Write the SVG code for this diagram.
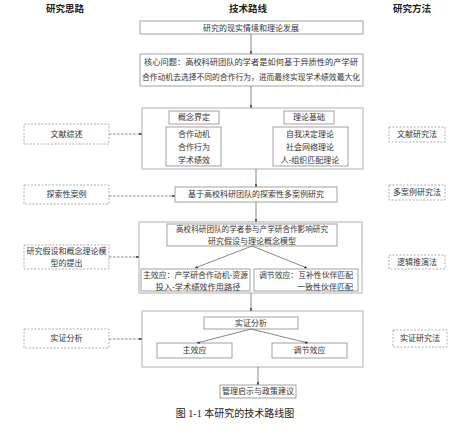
<svg xmlns="http://www.w3.org/2000/svg" width="473" height="427" viewBox="0 0 473 427">
<style>
text{font-family:"Liberation Serif","Noto Sans CJK SC",serif;font-size:8px;fill:#333;text-anchor:middle;dominant-baseline:central}
.h{font-size:9.5px;font-weight:bold;fill:#222}
.b{fill:#fff;stroke:#8a8a8a;stroke-width:0.8}
.g{fill:#fff;stroke:#b0b0b0;stroke-width:1}
.d{fill:#fff;stroke:#999;stroke-width:0.8;stroke-dasharray:2,1.5}
.c{stroke:#555;stroke-width:0.7;fill:none;marker-end:url(#a)}
.cd{stroke:#555;stroke-width:0.7;fill:none;stroke-dasharray:2.5,1.5;marker-end:url(#a)}
</style>
<defs><marker id="a" viewBox="0 0 6 6" refX="6" refY="3" markerWidth="4" markerHeight="4" orient="auto"><path d="M0,0L6,3L0,6z" fill="#333"/></marker></defs>
<rect width="473" height="427" fill="#fff"/>
<text class="h" x="65" y="9">研究思路</text>
<text class="h" x="248" y="9">技术路线</text>
<text class="h" x="412" y="9">研究方法</text>

<g id="n1"><rect class="b" x="140" y="21" width="223" height="13"/><text x="251" y="28">研究的现实情境和理论发展</text></g>
<g id="n2"><rect class="b" x="140" y="54" width="223" height="32"/><text x="251" y="62" textLength="214" lengthAdjust="spacingAndGlyphs">核心问题：高校科研团队的学者是如何基于异质性的产学研</text><text x="251" y="77" textLength="218" lengthAdjust="spacingAndGlyphs">合作动机去选择不同的合作行为，进而最终实现学术绩效最大化</text></g>
<g id="n3"><rect class="g" x="142" y="108" width="221" height="61"/>
<rect class="b" x="169" y="111" width="50" height="13"/><text x="194" y="117.5">概念界定</text>
<rect class="b" x="284" y="111" width="50" height="13"/><text x="309" y="117.5">理论基础</text>
<rect class="b" x="166" y="127" width="55" height="39"/><text x="194" y="134">合作动机</text><text x="194" y="147">合作行为</text><text x="194" y="160">学术绩效</text>
<rect class="b" x="273" y="127" width="75" height="39"/><text x="310" y="134">自我决定理论</text><text x="310" y="147">社会网络理论</text><text x="310" y="160">人-组织匹配理论</text></g>
<g id="n4"><rect class="b" x="175" y="187" width="162" height="15"/><text x="256" y="194.5">基于高校科研团队的探索性多案例研究</text></g>
<g id="n5"><rect class="g" x="139" y="222" width="223" height="71"/>
<rect class="b" x="167" y="224" width="170" height="22"/><text x="252" y="229.5" textLength="152" lengthAdjust="spacingAndGlyphs">高校科研团队的学者参与产学研合作影响研究</text><text x="252" y="241">研究假设与理论概念模型</text>
<rect class="b" x="141" y="269" width="109" height="22"/><text x="195.5" y="275" textLength="105" lengthAdjust="spacingAndGlyphs">主效应：产学研合作动机-资源</text><text x="198" y="287" textLength="85" lengthAdjust="spacingAndGlyphs">投入-学术绩效作用路径</text>
<rect class="b" x="254" y="269" width="104" height="22"/><text x="306" y="275" textLength="94" lengthAdjust="spacingAndGlyphs">调节效应：互补性伙伴匹配</text><text x="353" y="287" style="text-anchor:end">一致性伙伴匹配</text></g>
<g id="n6"><rect class="g" x="142" y="311" width="221" height="56"/>
<rect class="b" x="204" y="317" width="94" height="12"/><text x="251" y="323">实证分析</text>
<rect class="b" x="157" y="343" width="75" height="15"/><text x="194.5" y="350.5">主效应</text>
<rect class="b" x="272" y="343" width="75" height="15"/><text x="309.5" y="350.5">调节效应</text></g>
<g id="n7"><rect class="b" x="220" y="385" width="76" height="13"/><text x="258" y="391.5">管理启示与政策建议</text></g>

<g id="l1"><rect class="d" x="24" y="124" width="85" height="20"/><text x="66.5" y="134">文献综述</text></g>
<g id="l2"><rect class="d" x="24" y="185" width="85" height="19"/><text x="66.5" y="194.5">探索性案例</text></g>
<g id="l3"><rect class="d" x="24" y="245" width="85" height="24"/><text x="66.5" y="251" textLength="80" lengthAdjust="spacingAndGlyphs">研究假设和概念理论模</text><text x="66.5" y="263">型的提出</text></g>
<g id="l4"><rect class="d" x="24" y="329" width="85" height="19"/><text x="66.5" y="338.5">实证分析</text></g>

<g id="r1"><rect class="d" x="389" y="127" width="56" height="15"/><text x="417" y="134.5">文献研究法</text></g>
<g id="r2"><rect class="d" x="389" y="185" width="56" height="15"/><text x="417" y="192.5">多案例研究法</text></g>
<g id="r3"><rect class="d" x="389" y="255" width="56" height="14"/><text x="417" y="262">逻辑推演法</text></g>
<g id="r4"><rect class="d" x="393" y="330" width="54" height="17"/><text x="420" y="338.5">实证研究法</text></g>

<g id="connectors">
<path class="c" d="M251,34V54"/>
<path class="c" d="M251,86V108"/>
<path class="c" d="M256,169V187"/>
<path class="c" d="M256,202V222"/>
<path class="c" d="M252,246L195,268"/>
<path class="c" d="M252,246L307,268"/>
<path class="c" d="M251,293V311"/>
<path class="c" d="M251,329L197,343"/>
<path class="c" d="M251,329L308,343"/>
<path class="c" d="M258,367V385"/>
<path class="cd" d="M109,134H142"/>
<path class="cd" d="M109,196H175"/>
<path class="cd" d="M109,257H139"/>
<path class="cd" d="M109,339H142"/>
</g>
<text x="235" y="413" style="font-size:10px;fill:#222">图 1-1  本研究的技术路线图</text>
</svg>
